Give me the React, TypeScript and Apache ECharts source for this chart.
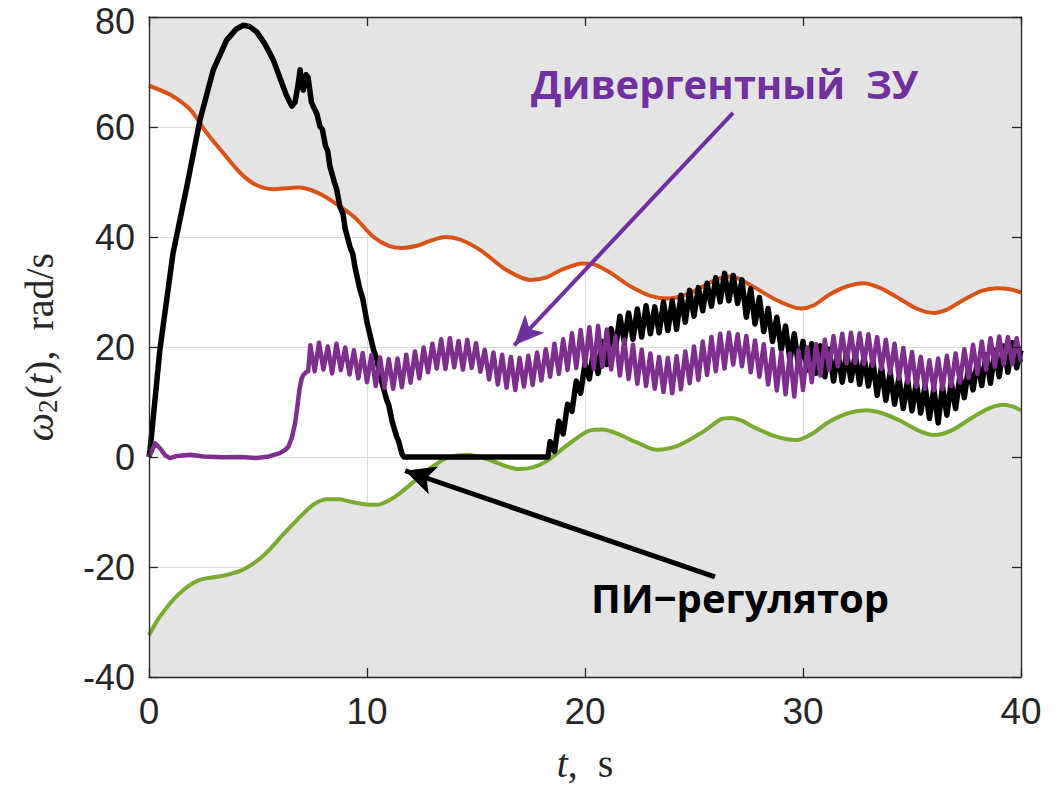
import React, { useEffect, useRef } from "react";
import * as echarts from "echarts";

// ---- axis ticks ----
const xTicks = [0, 10, 20, 30, 40];
const yTicks = [-40, -20, 0, 20, 40, 60, 80];

// ---- upper bound (orange) : [t, value] ----
const upperBound: number[][] = [
  [0, 67.5], [1, 65.8], [1.9, 63.1], [2.65, 58.9], [3.4, 55.3], [4.2, 51.6], [4.9, 49.5],
  [5.7, 48.7], [6.4, 48.9], [6.9, 49.0], [7.7, 48.1], [8.45, 46.4], [9.4, 43.7], [10.3, 40.0],
  [11, 38.4], [11.6, 38.0], [12.3, 38.4], [12.9, 39.3], [13.6, 40.0], [14.3, 39.5], [15.2, 37.6],
  [16.4, 34.0], [17.5, 32.2], [18.2, 32.6], [18.9, 34.0], [19.9, 35.2], [20.5, 34.9], [21.2, 33.4],
  [22.1, 31.0], [23.0, 29.3], [23.8, 28.8], [24.8, 29.8], [26.0, 32.2], [26.7, 32.8], [27.7, 31.0],
  [28.8, 28.5], [29.9, 27.0], [30.5, 27.6], [31.2, 29.5], [32.0, 31.0], [32.8, 31.6], [33.5, 30.8],
  [34.3, 29.1], [35.2, 27.0], [36.0, 26.2], [36.6, 26.8], [37.2, 28.2], [38.2, 30.2], [38.9, 30.7],
  [39.5, 30.5], [40, 29.9],
];

// ---- lower bound (green) : [t, value] ----
const lowerBound: number[][] = [
  [0, -32.4], [0.5, -29.0], [1.4, -24.8], [2.3, -22.4], [3.4, -21.6], [4.3, -20.5], [5.2, -18.1],
  [6.2, -13.9], [7.1, -10.2], [7.6, -8.5], [8.15, -7.7], [8.7, -7.7], [9.2, -8.1], [9.9, -8.6],
  [10.45, -8.7], [11.0, -7.9], [11.5, -6.6], [12.6, -3.0], [13.1, -1.5], [13.65, -0.2], [14.6, 0.4],
  [15.6, -0.5], [16.4, -1.7], [17.0, -2.2], [17.6, -1.9], [18.2, -0.85], [19.3, 2.5], [20.2, 4.8],
  [20.8, 5.0], [21.45, 4.3], [22.4, 2.6], [23.3, 1.3], [24.0, 1.7], [24.5, 2.5], [25.5, 4.8],
  [26.2, 6.8], [26.7, 7.1], [27.2, 6.6], [27.7, 5.5], [28.7, 3.8], [29.7, 3.1], [30.4, 4.2], [31.2, 6.4],
  [32.1, 8.0], [32.9, 8.5], [33.6, 8.0], [34.4, 6.7], [35.3, 4.8], [36.0, 4.0], [36.8, 4.8],
  [37.7, 7.0], [38.5, 8.8], [39.2, 9.5], [39.6, 9.2], [40, 8.5],
];

// ---- PI controller (black) ----
const piHead: number[][] = [
  [0, 0], [0.05, 1.3], [0.5, 19.5], [1.1, 37.0], [1.73, 49.1], [2.34, 61.3], [2.95, 70.4],
  [3.56, 75.8], [4.0, 77.8], [4.33, 78.5], [4.6, 78.3], [4.94, 77.3], [5.3, 75.2], [5.7, 72.2],
  [6.0, 69.0], [6.3, 65.8], [6.55, 63.8], [6.7, 64.5], [6.85, 68.0], [6.93, 70.4], [7.0, 67.5],
  [7.08, 66.7], [7.2, 69.5], [7.3, 69.0], [7.45, 64.5], [7.54, 63.7], [7.7, 62.4], [7.84, 60.1],
  [7.95, 59.6], [8.1, 56.5], [8.2, 55.6], [8.3, 52.8], [8.5, 50.0], [8.6, 48.8], [8.76, 45.5],
  [8.9, 44.2], [9.0, 41.5], [9.22, 38.2], [9.35, 36.9], [9.45, 34.5], [9.68, 30.4], [9.8, 28.9],
  [10.0, 24.5], [10.3, 19.5], [10.45, 17.8], [10.6, 14.8], [10.9, 10.4], [11.0, 9.4], [11.15, 6.5],
  [11.36, 3.7], [11.45, 2.9], [11.6, 0.6], [11.7, 0], [18.3, 0],
];
// sampled every 0.2 s from 18.4 s to 40 s
const piNoisyStart = 18.4;
const piNoisy: number[] = [
  2.8, 1.0, 6.5, 4.2, 9.6,
  8.3, 13.8, 11.6, 17.0, 14.2,
  19.5, 15.2, 21.0, 16.8, 23.3,
  19.8, 25.6, 21.0, 26.2, 21.4,
  26.9, 21.8, 27.5, 22.4, 27.3,
  22.6, 28.2, 23.0, 28.4, 23.2,
  29.4, 24.5, 30.3, 25.6, 30.8,
  26.6, 31.6, 27.4, 32.6, 28.2,
  33.4, 28.4, 33.0, 27.9, 32.2,
  25.4, 30.6, 24.2, 29.0, 22.8,
  27.0, 21.0, 25.4, 19.5, 23.8,
  17.6, 22.4, 16.4, 21.0, 15.8,
  20.6, 15.2, 20.2, 14.6, 19.6,
  13.8, 19.0, 13.6, 18.8, 13.9,
  18.6, 13.2, 18.3, 12.9, 17.6,
  11.2, 16.4, 10.3, 15.4, 9.6,
  14.4, 8.8, 14.0, 8.4, 13.6,
  8.0, 13.0, 7.0, 12.4, 6.2,
  12.8, 7.6, 13.6, 8.8, 14.8,
  10.8, 16.4, 12.2, 17.4, 13.0,
  18.6, 13.4, 19.4, 14.6, 20.2,
  15.4, 20.8, 16.2, 19.4,
];

// ---- divergent controller (purple) ----
const divHead: number[][] = [
  [0, 0], [0.1, 0.8], [0.28, 2.5], [0.5, 1.6], [0.75, 0.3], [0.96, -0.2], [1.3, 0.2], [1.9, 0.4],
  [2.5, 0.1], [3.4, -0.05], [4.2, 0], [4.94, -0.2], [5.5, 0.1], [6.0, 0.7], [6.25, 1.3], [6.4, 1.9],
  [6.55, 3.5], [6.7, 6.1], [6.8, 9.0], [6.9, 12.2], [7.0, 14.2], [7.08, 14.9], [7.2, 15.4], [7.3, 15.6],
];
// sampled every 0.2 s from 7.4 s to 40 s
const divNoisyStart = 7.4;
const divNoisy: number[] = [
  20.3, 15.6, 20.8, 15.9, 20.1,
  15.2, 20.6, 15.8, 19.9, 15.0,
  19.4, 14.3, 18.9, 13.6, 18.5,
  12.9, 18.1, 12.6, 17.8, 12.4,
  17.9, 12.7, 18.6, 13.5, 19.2,
  14.3, 19.9, 15.4, 20.6, 16.1,
  21.4, 16.0, 21.6, 16.3, 21.1,
  15.9, 21.3, 16.2, 20.7, 15.5,
  19.5, 14.1, 19.0, 13.2, 18.6,
  12.6, 18.2, 12.2, 18.0, 12.8,
  18.4, 13.1, 19.0, 13.9, 19.6,
  14.6, 20.6, 15.1, 21.4, 15.8,
  22.5, 16.2, 23.1, 16.6, 23.6,
  16.0, 23.8, 16.4, 23.2, 15.9,
  22.0, 14.8, 21.3, 14.2, 20.4,
  13.3, 19.5, 12.9, 18.8, 12.4,
  18.2, 11.8, 18.0, 11.6, 18.3,
  12.3, 19.2, 13.4, 20.1, 14.0,
  21.0, 14.9, 21.8, 15.6, 22.4,
  16.1, 22.6, 16.8, 22.3, 16.5,
  22.0, 15.4, 21.2, 14.6, 20.5,
  13.2, 19.6, 12.1, 19.0, 11.4,
  18.8, 11.0, 19.4, 12.2, 19.9,
  13.6, 20.5, 14.8, 21.3, 15.9,
  22.0, 16.5, 22.4, 17.0, 22.6,
  17.1, 22.5, 16.9, 22.3, 16.6,
  21.8, 16.0, 21.3, 15.2, 20.6,
  14.2, 19.8, 13.5, 19.1, 12.8,
  18.2, 12.4, 17.6, 12.1, 17.9,
  12.3, 18.4, 12.9, 18.8, 13.5,
  19.6, 14.4, 20.4, 15.1, 21.0,
  15.9, 21.6, 16.4, 21.9, 16.8,
  21.8, 16.9, 21.6, 17.3,
];

// ---- annotation arrows: [tail, head] in data units ----
const divArrow = [[26.79, 62.55], [16.75, 20.3]];
const piArrow = [[25.96, -21.8], [11.75, -2.5]];
const divLabel = "Дивергентный  ЗУ";
const piLabel = "ПИ−регулятор";

const SAMPLE_STEP = 0.2;

function withTime(start: number, values: number[]): number[][] {
  return values.map((v, i) => [Math.round((start + i * SAMPLE_STEP) * 100) / 100, v]);
}

const AXIS_COLOR = "#262626";
const FILL_GRAY = "#e4e4e4";
const ORANGE = "#D95319";
const GREEN = "#77AC30";
const PURPLE_LINE = "#7E2F8E";
const PURPLE_TEXT = "#7030A0";
const TICK_FONT = "Liberation Sans";

export default function App() {
  const ref = useRef<HTMLDivElement>(null);

  useEffect(() => {
    if (!ref.current) return;
    const chart = echarts.init(ref.current, undefined, { renderer: "svg" });

    const piData = [...piHead, ...withTime(piNoisyStart, piNoisy)];
    const divData = [...divHead, ...withTime(divNoisyStart, divNoisy)];
    const yMax = yTicks[yTicks.length - 1];

    const tickAxisCommon = {
      type: "value" as const,
      axisLine: { show: true, onZero: false, lineStyle: { color: AXIS_COLOR, width: 1.3 } },
      axisTick: { show: true, inside: true, length: 9, lineStyle: { color: AXIS_COLOR, width: 1.3 } },
      splitLine: { show: false },
      z: 5,
    };

    const option: echarts.EChartsOption = {
      animation: false,
      backgroundColor: "#ffffff",
      grid: {
        left: 149,
        right: 43,
        top: 17,
        bottom: 111,
        containLabel: false,
        outerBoundsMode: "none",
      } as any,
      xAxis: [
        {
          ...tickAxisCommon,
          position: "bottom",
          min: xTicks[0],
          max: xTicks[xTicks.length - 1],
          interval: 10,
          axisLabel: {
            color: AXIS_COLOR,
            fontSize: 37,
            lineHeight: 32,
            fontFamily: TICK_FONT,
            margin: 18,
          },
          name: "{i|t},  s",
          nameLocation: "middle",
          nameGap: 66,
          nameTextStyle: {
            fontFamily: "Liberation Serif",
            fontSize: 40,
            color: AXIS_COLOR,
            rich: {
              i: { fontFamily: "Liberation Serif", fontStyle: "italic", fontSize: 40, color: AXIS_COLOR },
            },
          },
        },
        {
          ...tickAxisCommon,
          position: "top",
          min: xTicks[0],
          max: xTicks[xTicks.length - 1],
          interval: 10,
          axisLabel: { show: false },
        },
        {
          type: "value",
          position: "bottom",
          min: xTicks[0],
          max: xTicks[xTicks.length - 1],
          interval: 10,
          axisLine: { show: false },
          axisTick: { show: false },
          axisLabel: { show: false },
          splitLine: { show: true, lineStyle: { color: "#dcdcdc", width: 1.2 } },
          z: 0,
        },
      ],
      yAxis: [
        {
          ...tickAxisCommon,
          position: "left",
          min: yTicks[0],
          max: yMax,
          interval: 20,
          axisLabel: {
            color: AXIS_COLOR,
            fontSize: 36,
            lineHeight: 30,
            fontFamily: TICK_FONT,
            margin: 14,
            // the topmost label is nudged down so it stays inside the canvas
            formatter: (v: number) => (v === yMax ? `{top|${v}}` : `${v}`),
            rich: {
              top: {
                color: AXIS_COLOR,
                fontSize: 36,
                lineHeight: 30,
                fontFamily: TICK_FONT,
                padding: [8, 0, 0, 0],
              },
            },
          },
          name: "{i|ω}{sub|2}({i|t}),  rad/s",
          nameLocation: "middle",
          nameGap: 88,
          nameRotate: 90,
          nameTextStyle: {
            fontFamily: "Liberation Serif",
            fontSize: 40,
            color: AXIS_COLOR,
            rich: {
              i: { fontFamily: "Liberation Serif", fontStyle: "italic", fontSize: 40, color: AXIS_COLOR },
              sub: { fontFamily: "Liberation Serif", fontSize: 27, color: AXIS_COLOR, padding: [16, 1, 0, 0] },
            },
          },
        },
        {
          ...tickAxisCommon,
          position: "right",
          min: yTicks[0],
          max: yMax,
          interval: 20,
          axisLabel: { show: false },
        },
        {
          type: "value",
          position: "left",
          min: yTicks[0],
          max: yMax,
          interval: 20,
          axisLine: { show: false },
          axisTick: { show: false },
          axisLabel: { show: false },
          splitLine: { show: true, lineStyle: { color: "#dcdcdc", width: 1.2 } },
          z: 0,
        },
      ],
      series: [
        {
          type: "line",
          name: "upper",
          data: upperBound,
          showSymbol: false,
          smooth: 0.3,
          lineStyle: { color: ORANGE, width: 4 },
          areaStyle: { color: FILL_GRAY, opacity: 1, origin: "end" },
          z: 2,
        },
        {
          type: "line",
          name: "lower",
          data: lowerBound,
          showSymbol: false,
          smooth: 0.3,
          lineStyle: { color: GREEN, width: 4 },
          areaStyle: { color: FILL_GRAY, opacity: 1, origin: "start" },
          z: 2,
        },
        {
          type: "line",
          name: "PI",
          data: piData,
          showSymbol: false,
          lineStyle: { color: "#000000", width: 5.5, join: "round" },
          z: 3,
          markLine: {
            silent: true,
            symbol: ["none", "arrow"],
            symbolSize: [22, 30],
            label: { show: false },
            lineStyle: { color: "#000000", width: 5, type: "solid" },
            data: [[{ coord: piArrow[0] }, { coord: piArrow[1] }]],
          },
        },
        {
          type: "line",
          name: "divergent",
          data: divData,
          showSymbol: false,
          lineStyle: { color: PURPLE_LINE, width: 4.5, join: "round" },
          z: 4,
          markLine: {
            silent: true,
            symbol: ["none", "arrow"],
            symbolSize: [20, 30],
            label: { show: false },
            lineStyle: { color: PURPLE_TEXT, width: 4, type: "solid" },
            data: [[{ coord: divArrow[0] }, { coord: divArrow[1] }]],
          },
        },
      ],
      graphic: [
        {
          type: "text",
          left: 531,
          top: 63,
          z: 10,
          style: {
            text: divLabel,
            fill: PURPLE_TEXT,
            font: 'bold 40px "Open Sans"',
          },
        },
        {
          type: "text",
          left: 591,
          top: 577,
          z: 10,
          style: {
            text: piLabel,
            fill: "#000000",
            font: 'bold 40px "Open Sans"',
          },
        },
      ],
    };

    chart.setOption(option);
    return () => chart.dispose();
  }, []);

  return (
    <div
      ref={ref}
      style={{ position: "fixed", left: 0, top: 0, width: 1064, height: 788 }}
    />
  );
}
